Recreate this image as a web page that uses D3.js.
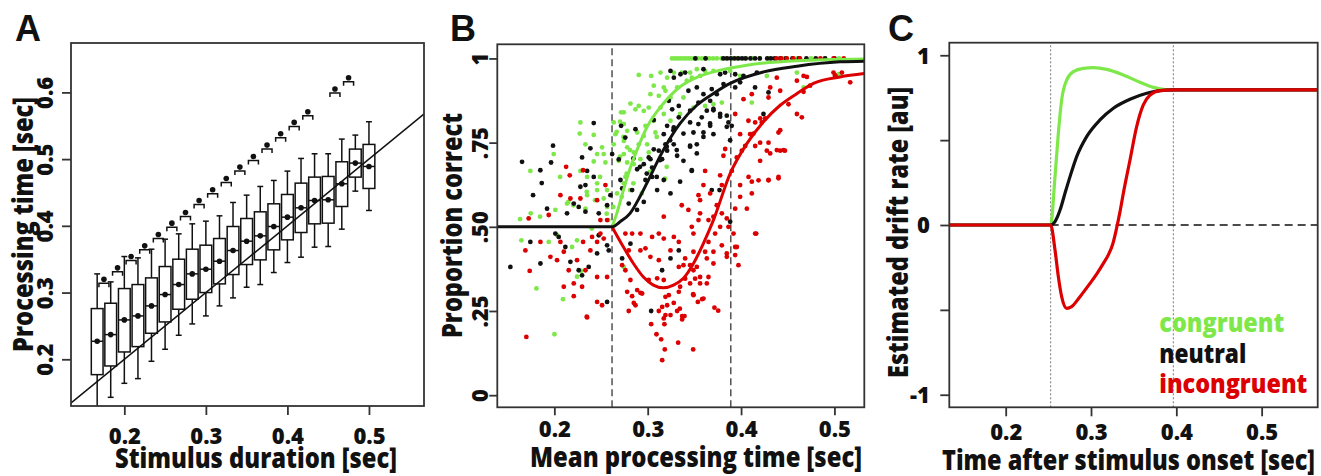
<!DOCTYPE html>
<html>
<head>
<meta charset="utf-8">
<script src="https://cdn.jsdelivr.net/npm/d3@7"></script>
<style>
  body { margin: 0; background: #fff; }
  text { font-family: "Open Sans", Lato, sans-serif; font-weight: 800; }
</style>
</head>
<body>
<div id="fig"></div>
<script>
// ---------- panel A : processing time per stimulus duration ----------
const durations = [0.1667, 0.1833, 0.2000, 0.2167, 0.2333, 0.2500, 0.2667, 0.2833, 0.3000, 0.3167, 0.3333,
                   0.3500, 0.3667, 0.3833, 0.4000, 0.4167, 0.4333, 0.4500, 0.4667, 0.4833, 0.5000];
const whiskerHigh = [0.328, 0.316, 0.354, 0.352, 0.365, 0.380, 0.388, 0.403, 0.407, 0.415, 0.435,
                     0.446, 0.459, 0.468, 0.482, 0.501, 0.508, 0.508, 0.530, 0.536, 0.556];
const q3 = [0.276, 0.284, 0.306, 0.312, 0.322, 0.339, 0.350, 0.365, 0.371, 0.381, 0.399,
            0.411, 0.421, 0.433, 0.447, 0.464, 0.473, 0.474, 0.496, 0.515, 0.522];
const medians = [0.227, 0.237, 0.259, 0.265, 0.280, 0.297, 0.312, 0.328, 0.335, 0.347, 0.363,
                 0.377, 0.385, 0.399, 0.413, 0.427, 0.438, 0.439, 0.463, 0.494, 0.489];
const q1 = [0.177, 0.190, 0.211, 0.219, 0.239, 0.256, 0.275, 0.290, 0.300, 0.313, 0.327,
            0.342, 0.349, 0.364, 0.379, 0.390, 0.403, 0.404, 0.429, 0.473, 0.456];
const whiskerLow = [0.120, 0.143, 0.164, 0.171, 0.197, 0.215, 0.236, 0.253, 0.265, 0.280, 0.292,
                    0.308, 0.312, 0.330, 0.345, 0.353, 0.368, 0.369, 0.395, 0.452, 0.423];
// upper markers between neighbouring durations
const markerX = [0.1750, 0.1917, 0.2083, 0.2250, 0.2417, 0.2583, 0.2750, 0.2917, 0.3083, 0.3250,
                 0.3417, 0.3583, 0.3750, 0.3917, 0.4083, 0.4250, 0.4583, 0.4750];
const markerY = [0.320, 0.337, 0.354, 0.370, 0.387, 0.404, 0.420, 0.438, 0.454, 0.471,
                 0.488, 0.504, 0.521, 0.538, 0.555, 0.571, 0.605, 0.622];

// ---------- panel B : proportion correct ----------
const onsetB = [0.2618, 0.389];
const fitNeutral = [[0.1389, 0.5], [0.2618, 0.5], [0.2704, 0.515], [0.2811, 0.54], [0.2918, 0.59], [0.299, 0.629],
  [0.3168, 0.728], [0.3347, 0.807], [0.3526, 0.861], [0.3704, 0.896], [0.3883, 0.926], [0.424, 0.96],
  [0.46, 0.977], [0.506, 0.99], [0.532, 0.992]];
const fitCongruent = [[0.2618, 0.5], [0.2669, 0.54], [0.274, 0.609], [0.2811, 0.673], [0.29, 0.738], [0.299, 0.795],
  [0.3168, 0.866], [0.3347, 0.916], [0.3526, 0.944], [0.3704, 0.96], [0.4062, 0.98], [0.46, 0.993], [0.532, 0.998]];
const fitIncongruent = [[0.2618, 0.5], [0.274, 0.44], [0.2847, 0.391], [0.2954, 0.351], [0.3061, 0.327],
  [0.3168, 0.319], [0.3276, 0.327], [0.3383, 0.347], [0.349, 0.391], [0.3597, 0.451], [0.3704, 0.52],
  [0.3883, 0.658], [0.4062, 0.747], [0.424, 0.812], [0.4419, 0.861], [0.46, 0.896], [0.4776, 0.926],
  [0.506, 0.945], [0.532, 0.955]];

// subjects at ceiling (proportion correct = 1)
const ceilCongruent = [0.326, 0.329, 0.332, 0.335, 0.338, 0.341, 0.344, 0.347, 0.351, 0.354, 0.358, 0.362, 0.366,
  0.370, 0.374, 0.379, 0.384, 0.390, 0.396, 0.404, 0.412, 0.420, 0.430, 0.445, 0.460, 0.475, 0.490, 0.505];
const ceilNeutral = [0.351, 0.362, 0.381, 0.385, 0.389, 0.393, 0.397, 0.401, 0.405, 0.410, 0.415, 0.420,
  0.428, 0.432, 0.436, 0.442, 0.448, 0.455, 0.462, 0.470, 0.480, 0.490, 0.500];
const ceilIncongruent = [0.438, 0.443, 0.449, 0.456, 0.463, 0.485, 0.499, 0.510];

const ptsCongruent = [
  [0.2904, 0.951], [0.3037, 0.948], [0.3137, 0.958], [0.3208, 0.943], [0.328, 0.958], [0.3065, 0.919], [0.3172, 0.914],
  [0.3029, 0.894], [0.3119, 0.889], [0.319, 0.904], [0.3315, 0.914], [0.3244, 0.884], [0.2869, 0.849], [0.2815, 0.866],
  [0.2744, 0.84], [0.2904, 0.859], [0.2958, 0.844], [0.3011, 0.854], [0.3137, 0.854], [0.3172, 0.835], [0.3065, 0.815],
  [0.2976, 0.8], [0.2636, 0.81], [0.2715, 0.84], [0.2744, 0.805], [0.278, 0.785], [0.2887, 0.78], [0.2958, 0.77],
  [0.3083, 0.78], [0.3244, 0.815], [0.2744, 0.755], [0.278, 0.736], [0.2851, 0.721], [0.2904, 0.745], [0.2994, 0.745],
  [0.3011, 0.721], [0.2922, 0.701], [0.2744, 0.716], [0.269, 0.696], [0.278, 0.691], [0.2851, 0.686], [0.2636, 0.745],
  [0.2654, 0.775], [0.2279, 0.81], [0.2272, 0.777], [0.2422, 0.773], [0.2333, 0.745], [0.1993, 0.716], [0.2458, 0.716],
  [0.2422, 0.694], [0.2529, 0.716], [0.2279, 0.666], [0.1743, 0.666], [0.2511, 0.736], [0.2547, 0.691],
  [0.1647, 0.46], [0.1808, 0.317], [0.194, 0.455], [0.2029, 0.475], [0.2136, 0.569], [0.2011, 0.55], [0.2333, 0.554],
  [0.2351, 0.648], [0.2458, 0.629], [0.2458, 0.609], [0.2565, 0.609], [0.2529, 0.584], [0.2351, 0.594], [0.2243, 0.46],
  [0.219, 0.44], [0.2243, 0.352], [0.2672, 0.599], [0.2744, 0.629], [0.2761, 0.648], [0.2565, 0.559], [0.2744, 0.381],
  [0.3365, 0.958], [0.3454, 0.958], [0.3526, 0.968], [0.3615, 0.963], [0.3704, 0.963], [0.3883, 0.963], [0.3472, 0.943],
  [0.3383, 0.884], [0.3418, 0.934], [0.3561, 0.948], [0.349, 0.854], [0.3347, 0.835], [0.3615, 0.859], [0.3704, 0.864],
  [0.3794, 0.869], [0.4115, 0.869], [0.4276, 0.948], [0.4598, 0.958], [0.467, 0.914], [0.5044, 0.953], [0.399, 0.948],
  [0.2093, 0.285], [0.2001, 0.181], [0.1633, 0.523], [0.2061, 0.648], [0.215, 0.574], [0.2286, 0.369], [0.2401, 0.495],
  [0.2347, 0.604], [0.2436, 0.579], [0.249, 0.648], [0.2561, 0.539], [0.2579, 0.52], [0.1847, 0.53], [0.1747, 0.54],
  [0.2204, 0.564], [0.2704, 0.812], [0.2668, 0.782], [0.274, 0.767], [0.2811, 0.728], [0.2704, 0.708], [0.2775, 0.658],
  [0.2847, 0.629], [0.2811, 0.609], [0.2722, 0.589], [0.2632, 0.559], [0.2936, 0.599], [0.3025, 0.663], [0.3204, 0.678],
  [0.3186, 0.643], [0.3097, 0.767]];

const ptsNeutral = [
  [0.2422, 0.808], [0.1986, 0.741], [0.1965, 0.691], [0.1654, 0.693], [0.2386, 0.733], [0.2297, 0.706], [0.2351, 0.666],
  [0.2619, 0.716], [0.2715, 0.8], [0.276, 0.765], [0.269, 0.7], [0.2869, 0.79], [0.3065, 0.817], [0.3226, 0.874],
  [0.3262, 0.849], [0.3333, 0.859], [0.3208, 0.8], [0.3172, 0.775], [0.3279, 0.795], [0.3333, 0.825], [0.319, 0.745],
  [0.3279, 0.745], [0.3119, 0.726], [0.3208, 0.726], [0.3065, 0.73], [0.3154, 0.701], [0.3029, 0.701], [0.3047, 0.676],
  [0.2958, 0.686], [0.3011, 0.706], [0.2887, 0.671], [0.3315, 0.711], [0.328, 0.943], [0.3351, 0.953], [0.3244, 0.963],
  [0.1529, 0.381], [0.1772, 0.594], [0.185, 0.668], [0.1922, 0.554], [0.1743, 0.455], [0.1851, 0.391], [0.2011, 0.48],
  [0.2047, 0.47], [0.2118, 0.44], [0.2136, 0.54], [0.2208, 0.569], [0.2279, 0.619], [0.2422, 0.648], [0.2476, 0.54],
  [0.2565, 0.564], [0.2261, 0.559], [0.2333, 0.545], [0.2172, 0.396], [0.2261, 0.371], [0.2297, 0.356], [0.2368, 0.381],
  [0.2458, 0.421], [0.2476, 0.475], [0.2565, 0.445], [0.2583, 0.43], [0.2601, 0.594], [0.2797, 0.569], [0.2833, 0.609],
  [0.2886, 0.55], [0.2958, 0.574], [0.2976, 0.639], [0.3047, 0.648], [0.3101, 0.609], [0.3172, 0.639], [0.3244, 0.599],
  [0.2708, 0.639], [0.2726, 0.614], [0.2815, 0.45], [0.2726, 0.406], [0.3154, 0.371], [0.3244, 0.406], [0.3333, 0.43],
  [0.2333, 0.624], [0.3472, 0.668], [0.3347, 0.634], [0.3686, 0.609], [0.3769, 0.609], [0.3883, 0.515],
  [0.3401, 0.958], [0.3597, 0.968], [0.3776, 0.953], [0.3829, 0.958], [0.3937, 0.953], [0.4026, 0.948], [0.4169, 0.958],
  [0.3436, 0.904], [0.3526, 0.914], [0.3597, 0.894], [0.3686, 0.909], [0.374, 0.894], [0.3812, 0.924], [0.3937, 0.914],
  [0.399, 0.929], [0.3543, 0.869], [0.3669, 0.874], [0.3454, 0.845], [0.3633, 0.845], [0.3704, 0.85], [0.3776, 0.835],
  [0.3847, 0.83], [0.3579, 0.825], [0.3454, 0.81], [0.3543, 0.805], [0.3669, 0.8], [0.3597, 0.78], [0.349, 0.78],
  [0.3704, 0.775], [0.3865, 0.81], [0.39, 0.8], [0.415, 0.914], [0.4294, 0.899], [0.424, 0.835], [0.3454, 0.741],
  [0.3526, 0.745], [0.3383, 0.696], [0.3472, 0.666], [0.5008, 0.948], [0.2565, 0.277], [0.3037, 0.25], [0.1865, 0.63],
  [0.2847, 0.703], [0.2918, 0.678], [0.299, 0.658], [0.3097, 0.648], [0.324, 0.757], [0.3311, 0.728], [0.3383, 0.777],
  [0.3454, 0.738], [0.3526, 0.718], [0.3597, 0.767], [0.3668, 0.807], [0.3776, 0.827], [0.3847, 0.797], [0.3883, 0.757],
  [0.3704, 0.846], [0.3132, 0.698], [0.3204, 0.738], [0.3275, 0.787]];

const ptsIncongruent = [
  [0.2126, 0.678], [0.2308, 0.668], [0.2165, 0.653], [0.2065, 0.594], [0.2172, 0.584], [0.2279, 0.584], [0.2458, 0.579],
  [0.2493, 0.52], [0.2547, 0.624], [0.2565, 0.52], [0.194, 0.535], [0.1725, 0.525], [0.1851, 0.455], [0.169, 0.43],
  [0.1736, 0.369], [0.1958, 0.411], [0.2029, 0.401], [0.2065, 0.455], [0.2101, 0.426], [0.2243, 0.401], [0.2308, 0.455],
  [0.2333, 0.371], [0.2404, 0.47], [0.2458, 0.455], [0.2493, 0.48], [0.2529, 0.465], [0.2386, 0.43], [0.2208, 0.332],
  [0.2297, 0.322], [0.2458, 0.351], [0.2565, 0.351], [0.2101, 0.322], [0.2154, 0.371], [0.2761, 0.48], [0.2833, 0.48],
  [0.2922, 0.48], [0.2797, 0.43], [0.2726, 0.386], [0.2761, 0.371], [0.2922, 0.43], [0.2976, 0.436], [0.3047, 0.47],
  [0.3119, 0.48], [0.3172, 0.465], [0.328, 0.47], [0.3029, 0.411], [0.3119, 0.401], [0.3244, 0.43], [0.3333, 0.455],
  [0.2887, 0.312], [0.294, 0.302], [0.3011, 0.342], [0.3101, 0.347], [0.3172, 0.342], [0.3226, 0.297], [0.3333, 0.381],
  [0.2815, 0.342], [0.3172, 0.53], [0.3597, 0.624], [0.3669, 0.599], [0.3776, 0.653], [0.3794, 0.624], [0.399, 0.624],
  [0.408, 0.648], [0.4115, 0.634], [0.4294, 0.639], [0.4401, 0.644], [0.4115, 0.599], [0.399, 0.589], [0.3544, 0.594],
  [0.3561, 0.579], [0.3365, 0.564], [0.3436, 0.55], [0.3561, 0.54], [0.374, 0.564], [0.3937, 0.554], [0.4062, 0.554],
  [0.3794, 0.54], [0.3704, 0.53], [0.3544, 0.52], [0.3651, 0.52], [0.3847, 0.525], [0.3865, 0.5], [0.3776, 0.5],
  [0.3472, 0.5], [0.349, 0.48], [0.3722, 0.48], [0.3651, 0.455], [0.3794, 0.445], [0.349, 0.426], [0.3615, 0.426],
  [0.3704, 0.426], [0.3847, 0.411], [0.3937, 0.44], [0.3937, 0.416], [0.3972, 0.386], [0.3633, 0.406], [0.3401, 0.406],
  [0.3383, 0.386], [0.3454, 0.386], [0.3526, 0.381], [0.3704, 0.391], [0.349, 0.371], [0.3401, 0.346], [0.3508, 0.346],
  [0.3561, 0.351], [0.3651, 0.351], [0.3454, 0.332], [0.3561, 0.332], [0.3633, 0.332], [0.3347, 0.322], [0.349, 0.297],
  [0.3597, 0.287], [0.4162, 0.48], [0.4383, 0.943], [0.4598, 0.934], [0.467, 0.948], [0.474, 0.919], [0.499, 0.958],
  [0.508, 0.958], [0.5169, 0.929], [0.4419, 0.904], [0.4312, 0.914], [0.4115, 0.894], [0.4294, 0.884], [0.4508, 0.864],
  [0.4026, 0.879], [0.3937, 0.835], [0.4598, 0.835], [0.4651, 0.825], [0.4401, 0.78], [0.4079, 0.815], [0.4151, 0.81],
  [0.4222, 0.81], [0.399, 0.775], [0.4097, 0.775], [0.4204, 0.75], [0.4294, 0.75], [0.447, 0.726], [0.4419, 0.726],
  [0.4276, 0.726], [0.4151, 0.74], [0.4044, 0.74], [0.4008, 0.726], [0.383, 0.731], [0.3811, 0.711], [0.3954, 0.706],
  [0.4204, 0.696], [0.3615, 0.666], [0.3901, 0.666], [0.17, 0.173], [0.2208, 0.294], [0.2351, 0.231], [0.2458, 0.277],
  [0.2511, 0.267], [0.278, 0.307], [0.2833, 0.294], [0.2851, 0.274], [0.2869, 0.267], [0.2797, 0.25], [0.2922, 0.304],
  [0.3037, 0.211], [0.3094, 0.181], [0.3144, 0.166], [0.3155, 0.104], [0.3183, 0.136], [0.3119, 0.25], [0.3155, 0.262],
  [0.319, 0.292], [0.3208, 0.267], [0.3279, 0.274], [0.319, 0.238], [0.3172, 0.228], [0.3179, 0.211], [0.3244, 0.238],
  [0.3315, 0.25], [0.3344, 0.257], [0.3369, 0.235], [0.3369, 0.225], [0.3394, 0.235], [0.3326, 0.156], [0.3487, 0.136],
  [0.3487, 0.3], [0.3537, 0.277], [0.3583, 0.285], [0.3715, 0.26], [0.3755, 0.251], [0.3333, 0.307], [0.2347, 0.233],
  [0.3847, 0.421], [0.3919, 0.48], [0.3955, 0.44], [0.4151, 0.48], [0.4133, 0.777], [0.4187, 0.638], [0.4294, 0.638],
  [0.4401, 0.648], [0.4312, 0.718], [0.4383, 0.728], [0.4455, 0.728], [0.4419, 0.787], [0.4205, 0.822], [0.4258, 0.822],
  [0.4669, 0.901], [0.4705, 0.945], [0.5008, 0.95]];

// ---------- panel C : estimated drift rate ----------
const windowC = [0.2527, 0.3965];
const driftCongruent = [[0.1339, 0], [0.2527, 0], [0.2578, 0.285], [0.2617, 0.54], [0.2656, 0.737], [0.2715, 0.854],
  [0.2793, 0.904], [0.291, 0.923], [0.3027, 0.927], [0.3184, 0.917], [0.3379, 0.884], [0.3574, 0.841], [0.3731, 0.811],
  [0.3848, 0.799], [0.3965, 0.796], [0.5657, 0.796]];
const driftNeutral = [[0.1339, 0], [0.2527, 0], [0.2578, 0.02], [0.2637, 0.088], [0.2695, 0.187], [0.2754, 0.285],
  [0.2832, 0.403], [0.2949, 0.521], [0.3105, 0.619], [0.3262, 0.688], [0.3457, 0.741], [0.3653, 0.776], [0.3809, 0.792],
  [0.3965, 0.796], [0.5657, 0.796]];
const driftIncongruent = [[0.1339, 0], [0.2527, 0], [0.2578, -0.147], [0.2617, -0.304], [0.2656, -0.422], [0.2715, -0.491],
  [0.2773, -0.481], [0.2871, -0.422], [0.2988, -0.344], [0.3066, -0.289], [0.3145, -0.226], [0.3203, -0.176],
  [0.3255, -0.112], [0.3297, -0.025], [0.334, 0.079], [0.3379, 0.187], [0.3457, 0.383], [0.3535, 0.579], [0.3613, 0.707],
  [0.3692, 0.766], [0.3809, 0.792], [0.3965, 0.796], [0.5657, 0.796]];
const legendNames = ["congruent", "neutral", "incongruent"];

// tick labels
const xTicks = [0.2, 0.3, 0.4, 0.5];
const yTicksA = [0.2, 0.3, 0.4, 0.5, 0.6], yLabelsA = ["0.2", "0.3", "0.4", "0.5", "0.6"];
const yTicksB = [0, 0.25, 0.5, 0.75, 1], yLabelsB = ["0", ".25", ".50", ".75", "1"];
const yTicksC = [-1, -0.5, 0, 0.5, 1], yLabelsC = ["-1", "", "0", "", "1"];

const ink = "#111", frameInk = "#333";
const green = "#7ee84a", red = "#dc0000";

const svg = d3.select("#fig").append("svg")
  .attr("width", 1321).attr("height", 476);

function makePanel(id, xDomain, xRange, yDomain, yRange) {
  const x = d3.scaleLinear().domain(xDomain).range(xRange);
  const y = d3.scaleLinear().domain(yDomain).range(yRange);
  svg.append("clipPath").attr("id", id).append("rect")
    .attr("x", xRange[0]).attr("y", yRange[1])
    .attr("width", xRange[1] - xRange[0]).attr("height", yRange[0] - yRange[1]);
  const plot = svg.append("g").attr("clip-path", `url(#${id})`);
  return {x, y, plot};
}

function drawAxes(p, o) {
  const {x, y} = p;
  const [x0, x1] = x.range(), [y0, y1] = y.range();
  svg.append("rect")
    .attr("x", x0).attr("y", y1).attr("width", x1 - x0).attr("height", y0 - y1)
    .attr("fill", "none").attr("stroke", frameInk).attr("stroke-width", 1.8);

  const gx = svg.append("g").attr("transform", `translate(0,${y0})`)
    .call(d3.axisBottom(x).tickValues(xTicks).tickSize(o.tick).tickFormat(d3.format(".1f")));
  const gy = svg.append("g").attr("transform", `translate(${x0},0)`)
    .call(d3.axisLeft(y).tickValues(o.yTicks).tickSize(o.tick).tickFormat((d, i) => o.yLabels[i]));
  [gx, gy].forEach(g => {
    g.attr("font-family", null).attr("font-size", null);
    g.select(".domain").remove();
    g.selectAll("line").attr("stroke", frameInk).attr("stroke-width", 1.8);
    g.selectAll("text").attr("fill", ink).style("font-size", "22px");
  });
  gx.selectAll("text").attr("y", o.xLabY).attr("dy", null);
  if (o.rotateY) {
    gy.selectAll("text").attr("x", null).attr("dy", null).attr("text-anchor", "middle")
      .attr("transform", `translate(${o.yLabX},0) rotate(-90)`);
  } else {
    gy.selectAll("text").attr("x", o.yLabX).attr("dy", "0.36em").attr("text-anchor", "end");
  }
}

function title(txt, x, y, len, rotate) {
  svg.append("text")
    .attr("transform", `translate(${x},${y})` + (rotate ? " rotate(-90)" : ""))
    .attr("text-anchor", "middle")
    .attr("textLength", len).attr("lengthAdjust", "spacingAndGlyphs")
    .style("font-size", "28px").attr("fill", ink)
    .text(txt);
}

function letter(txt, x) {
  svg.append("text").attr("x", x).attr("y", 41)
    .style("font-family", "'Liberation Sans', Arial, sans-serif").style("font-weight", 700)
    .style("font-size", "36px").attr("fill", ink)
    .text(txt);
}

// ===== Panel A =====
const A = makePanel("clipA", [0.1346, 0.5675], [71, 424], [0.13, 0.674], [406, 43]);
const boxHalf = 0.0072, capHalf = 0.0036;

// identity line
A.plot.append("line")
  .attr("x1", A.x(0.1)).attr("y1", A.y(0.1)).attr("x2", A.x(0.6)).attr("y2", A.y(0.6))
  .attr("stroke", ink).attr("stroke-width", 1.5);

const boxes = A.plot.append("g").attr("stroke", ink).attr("stroke-width", 1.5).attr("fill", "none");
durations.forEach((d, i) => {
  const g = boxes.append("g");
  g.append("line").attr("x1", A.x(d)).attr("x2", A.x(d)).attr("y1", A.y(q3[i])).attr("y2", A.y(whiskerHigh[i]));
  g.append("line").attr("x1", A.x(d)).attr("x2", A.x(d)).attr("y1", A.y(q1[i])).attr("y2", A.y(whiskerLow[i]));
  g.append("line").attr("x1", A.x(d - capHalf)).attr("x2", A.x(d + capHalf))
    .attr("y1", A.y(whiskerHigh[i])).attr("y2", A.y(whiskerHigh[i]));
  g.append("line").attr("x1", A.x(d - capHalf)).attr("x2", A.x(d + capHalf))
    .attr("y1", A.y(whiskerLow[i])).attr("y2", A.y(whiskerLow[i]));
  g.append("rect").attr("x", A.x(d - boxHalf)).attr("y", A.y(q3[i]))
    .attr("width", A.x(d + boxHalf) - A.x(d - boxHalf)).attr("height", A.y(q1[i]) - A.y(q3[i]))
    .attr("fill", "none");
  g.append("line").attr("x1", A.x(d - boxHalf)).attr("x2", A.x(d + boxHalf))
    .attr("y1", A.y(medians[i])).attr("y2", A.y(medians[i]));
  g.append("circle").attr("cx", A.x(d)).attr("cy", A.y(medians[i])).attr("r", 2.8)
    .attr("fill", ink).attr("stroke", "none");
});

// upper markers: dot over a small bracket
const markers = A.plot.append("g");
markerX.forEach((m, i) => {
  const cx = A.x(m), cy = A.y(markerY[i]);
  markers.append("path")
    .attr("d", `M${cx - 5},${cy + 8} V${cy + 4} H${cx + 5} V${cy + 8}`)
    .attr("fill", "none").attr("stroke", ink).attr("stroke-width", 1.5);
  markers.append("circle").attr("cx", cx).attr("cy", cy).attr("r", 2.8).attr("fill", ink);
});

drawAxes(A, {tick: 9, yTicks: yTicksA, yLabels: yLabelsA, xLabY: 38, yLabX: -18, rotateY: true});
title("Stimulus duration [sec]", 256, 468, 282, false);
title("Processing time [sec]", 33, 224.5, 255, true);
letter("A", 15);

// ===== Panel B =====
const B = makePanel("clipB", [0.1389, 0.532], [497.3, 864.3], [-0.036, 1.042], [407.3, 44.3]);

B.plot.selectAll(".onset").data(onsetB).join("line")
  .attr("x1", d => B.x(d)).attr("x2", d => B.x(d))
  .attr("y1", B.y.range()[0]).attr("y2", B.y.range()[1])
  .attr("stroke", "#444").attr("stroke-width", 1.4).attr("stroke-dasharray", "7,4");

const scatter = [
  {pts: ptsCongruent, ceil: ceilCongruent, color: green},
  {pts: ptsNeutral, ceil: ceilNeutral, color: ink},
  {pts: ptsIncongruent, ceil: ceilIncongruent, color: red}
];
scatter.forEach(s => {
  const g = B.plot.append("g").attr("fill", s.color);
  g.selectAll(".p").data(s.pts).join("circle")
    .attr("cx", d => B.x(d[0])).attr("cy", d => B.y(d[1])).attr("r", 2.4);
  g.selectAll(".c").data(s.ceil).join("circle")
    .attr("cx", d => B.x(d)).attr("cy", B.y(1)).attr("r", 2.4);
});

const lineB = d3.line().x(d => B.x(d[0])).y(d => B.y(d[1])).curve(d3.curveMonotoneX);
[[fitCongruent, green], [fitIncongruent, red], [fitNeutral, ink]].forEach(([data, color]) => {
  B.plot.append("path").datum(data).attr("d", lineB)
    .attr("fill", "none").attr("stroke", color).attr("stroke-width", 3);
});

drawAxes(B, {tick: 8, yTicks: yTicksB, yLabels: yLabelsB, xLabY: 29.7, yLabX: -9.8, rotateY: true});
title("Mean processing time [sec]", 696, 467, 332, false);
title("Proportion correct", 462, 225.5, 225, true);
letter("B", 450);

// ===== Panel C =====
const C = makePanel("clipC", [0.1339, 0.5657], [949.3, 1317.7], [-1.074, 1.074], [407.3, 42.7]);

C.plot.selectAll(".win").data(windowC).join("line")
  .attr("x1", d => C.x(d)).attr("x2", d => C.x(d))
  .attr("y1", C.y.range()[0]).attr("y2", C.y.range()[1])
  .attr("stroke", "#777").attr("stroke-width", 1).attr("stroke-dasharray", "2,2");
C.plot.append("line")
  .attr("x1", C.x(windowC[0])).attr("x2", C.x.range()[1])
  .attr("y1", C.y(0)).attr("y2", C.y(0))
  .attr("stroke", ink).attr("stroke-width", 1.5).attr("stroke-dasharray", "8,5");

const lineC = d3.line().x(d => C.x(d[0])).y(d => C.y(d[1])).curve(d3.curveMonotoneX);
[[driftCongruent, green], [driftNeutral, ink], [driftIncongruent, red]].forEach(([data, color]) => {
  C.plot.append("path").datum(data).attr("d", lineC)
    .attr("fill", "none").attr("stroke", color).attr("stroke-width", 3.2);
});

drawAxes(C, {tick: 9, yTicks: yTicksC, yLabels: yLabelsC, xLabY: 32.7, yLabX: -19.3, rotateY: false});
title("Time after stimulus onset [sec]", 1128.5, 470, 373, false);
title("Estimated drift rate [au]", 908, 232.5, 291, true);
letter("C", 888);

const legendColors = [green, ink, red];
const legendLen = [125, 87, 148];
const legendY = [331.7, 363.3, 393.3];
svg.append("g").selectAll("text").data(legendNames).join("text")
  .attr("x", 1159.3).attr("y", (d, i) => legendY[i])
  .attr("textLength", (d, i) => legendLen[i]).attr("lengthAdjust", "spacingAndGlyphs")
  .style("font-size", "27px").attr("fill", (d, i) => legendColors[i])
  .text(d => d);
</script>
</body>
</html>
